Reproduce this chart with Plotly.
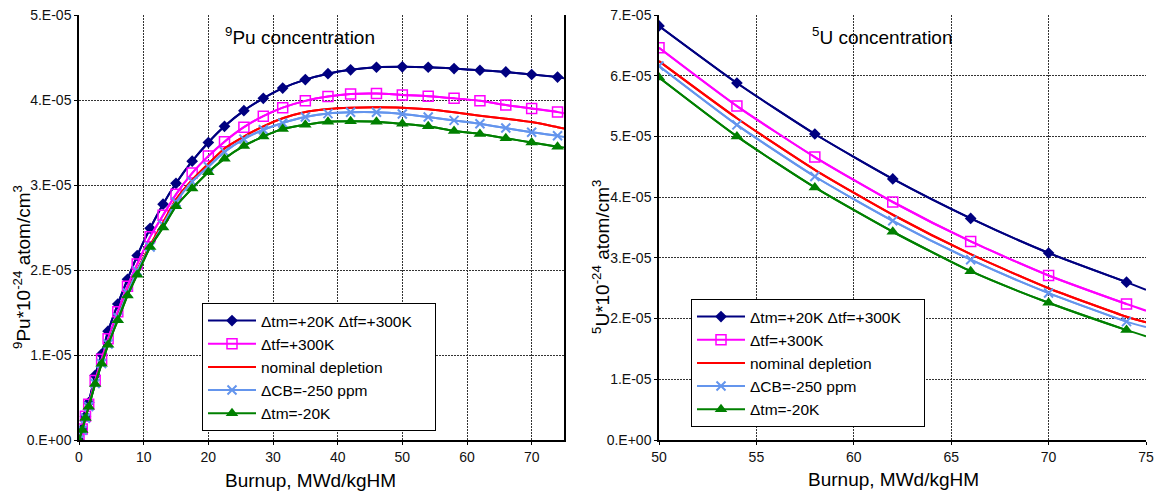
import plotly.graph_objects as go

# ---------------- data ----------------
# Pu-239 panel: burnup points (MWd/kgHM); markers on all but the last point
burnup_pu = [0, 0.5, 1, 1.5, 2.5, 3.5, 4.5, 6, 7.5, 9, 11, 13, 15, 17.5, 20, 22.5,
             25.5, 28.5, 31.5, 35, 38.5, 42, 46, 50, 54, 58, 62, 66, 70, 74, 75]

# concentrations in units of 1E-05 (x 1E-24 atom/cm3)
pu_tm20_tf300 = [0, 0.13, 0.28, 0.44, 0.76, 1.01, 1.28, 1.60, 1.89, 2.17, 2.49, 2.775,
                 3.02, 3.28, 3.50, 3.69, 3.875, 4.02, 4.14, 4.24, 4.31, 4.355, 4.385,
                 4.39, 4.385, 4.37, 4.35, 4.33, 4.30, 4.27, 4.255]
pu_tf300 = [0, 0.13, 0.28, 0.42, 0.70, 0.95, 1.19, 1.51, 1.81, 2.07, 2.39, 2.645,
            2.89, 3.14, 3.34, 3.51, 3.68, 3.81, 3.91, 3.99, 4.04, 4.07, 4.075,
            4.06, 4.045, 4.02, 3.99, 3.94, 3.90, 3.86, 3.845]
pu_nominal = [0, 0.12, 0.26, 0.40, 0.67, 0.91, 1.14, 1.45, 1.74, 2.00, 2.29, 2.56,
              2.83, 3.06, 3.25, 3.43, 3.57, 3.69, 3.785, 3.86, 3.895, 3.91, 3.915,
              3.91, 3.89, 3.855, 3.815, 3.78, 3.74, 3.68, 3.665]
pu_cb250 = [0, 0.115, 0.255, 0.395, 0.665, 0.90, 1.13, 1.44, 1.73, 1.99, 2.27, 2.53,
            2.80, 3.04, 3.215, 3.39, 3.54, 3.65, 3.73, 3.80, 3.84, 3.855, 3.855,
            3.835, 3.80, 3.76, 3.72, 3.67, 3.62, 3.58, 3.565]
pu_tm_minus20 = [0, 0.117, 0.26, 0.39, 0.66, 0.896, 1.12, 1.41, 1.70, 1.945, 2.27, 2.50,
                 2.75, 2.96, 3.15, 3.31, 3.46, 3.57, 3.66, 3.71, 3.745, 3.75, 3.745,
                 3.72, 3.69, 3.635, 3.60, 3.55, 3.50, 3.45, 3.44]

# U-235 panel
burnup_u = [50, 54, 58, 62, 66, 70, 74, 75]
u_tm20_tf300 = [6.82, 5.88, 5.04, 4.30, 3.65, 3.08, 2.60, 2.475]
u_tf300 = [6.46, 5.50, 4.66, 3.92, 3.27, 2.71, 2.24, 2.13]
u_nominal = [6.24, 5.30, 4.45, 3.71, 3.06, 2.50, 2.03, 1.94]
u_cb250 = [6.16, 5.19, 4.34, 3.61, 2.97, 2.42, 1.95, 1.86]
u_tm_minus20 = [5.97, 5.00, 4.16, 3.43, 2.78, 2.26, 1.81, 1.71]

series_names = ["\u0394tm=+20K \u0394tf=+300K", "\u0394tf=+300K", "nominal depletion",
                "\u0394CB=-250 ppm", "\u0394tm=-20K"]

pu_ticks = [0, 1e-5, 2e-5, 3e-5, 4e-5, 5e-5]
pu_ticktext = ["0.E+00", "1.E-05", "2.E-05", "3.E-05", "4.E-05", "5.E-05"]
u_ticks = [0, 1e-5, 2e-5, 3e-5, 4e-5, 5e-5, 6e-5, 7e-5]
u_ticktext = ["0.E+00", "1.E-05", "2.E-05", "3.E-05", "4.E-05", "5.E-05", "6.E-05", "7.E-05"]
pu_xticks = [0, 10, 20, 30, 40, 50, 60, 70]
u_xticks = [50, 55, 60, 65, 70, 75]

# ---------------- styles ----------------
styles = [
    dict(color="#000080", symbol="diamond", size=9, lw=0),
    dict(color="#FF00FF", symbol="square-open", size=10, lw=1.5),
    None,
    dict(color="#6495ED", symbol="x-thin-open", size=9, lw=2),
    dict(color="#008000", symbol="triangle-up", size=11, lw=0),
]
line_colors = ["#000080", "#FF00FF", "#FF0000", "#6495ED", "#008000"]
FONT = "Liberation Sans, Arial, sans-serif"

fig = go.Figure()


def add_series(xs, ys, name, idx, xaxis, yaxis, legend):
    yv = [v * 1e-5 for v in ys]
    color = line_colors[idx]
    lw = dict(color=color, width=2, shape="spline", smoothing=0.6)
    # full smoothed curve (runs to the end of the axis)
    fig.add_trace(go.Scatter(
        x=xs, y=yv, mode="lines", xaxis=xaxis, yaxis=yaxis, line=lw,
        showlegend=False, hoverinfo="skip", legend=legend))
    st = styles[idx]
    if st is None:
        fig.add_trace(go.Scatter(
            x=xs, y=yv, mode="lines", name=name, xaxis=xaxis, yaxis=yaxis,
            line=lw, legend=legend))
    else:
        m = dict(symbol=st["symbol"], size=st["size"], color=st["color"],
                 line=dict(color=st["color"], width=st["lw"]))
        fig.add_trace(go.Scatter(
            x=xs[:-1], y=yv[:-1], mode="lines+markers", name=name,
            xaxis=xaxis, yaxis=yaxis, line=lw, marker=m, legend=legend))


# a little trailing room after the longest legend entry
legend_names = [series_names[0] + "\u00a0" * 4] + series_names[1:]

pu_data = [pu_tm20_tf300, pu_tf300, pu_nominal, pu_cb250, pu_tm_minus20]
u_data = [u_tm20_tf300, u_tf300, u_nominal, u_cb250, u_tm_minus20]
for i, (nm, ys) in enumerate(zip(legend_names, pu_data)):
    add_series(burnup_pu, ys, nm, i, "x", "y", "legend")
for i, (nm, ys) in enumerate(zip(legend_names, u_data)):
    add_series(burnup_u, ys, nm, i, "x2", "y2", "legend2")

W, H = 1161, 495
ydom = [1 - 440 / H, 1 - 15 / H]

grid = dict(showgrid=True, gridcolor="#333333", gridwidth=1, griddash="2px,1px",
            showline=True, linecolor="black", linewidth=1.5,
            ticks="outside", ticklen=3, tickcolor="black", zeroline=False,
            automargin=False,
            tickfont=dict(family=FONT, size=14, color="#111111"))

legend_style = dict(xanchor="left", yanchor="top", bgcolor="white",
                    bordercolor="black", borderwidth=1, itemwidth=48,
                    font=dict(family=FONT, size=15.5, color="black"))

fig.update_layout(
    width=W, height=H,
    margin=dict(l=0, r=0, t=0, b=0, pad=0, autoexpand=False),
    paper_bgcolor="white", plot_bgcolor="white",
    font=dict(family=FONT, color="black"),
    xaxis=dict(domain=[79 / W, 564 / W], range=[0, 75], anchor="y",
               tickvals=pu_xticks, **grid),
    yaxis=dict(domain=ydom, range=[0, 5e-5], anchor="x", mirror=True,
               tickvals=pu_ticks, ticktext=pu_ticktext, **grid),
    xaxis2=dict(domain=[659 / W, 1146 / W], range=[50, 75], anchor="y2",
                tickvals=u_xticks, **grid),
    yaxis2=dict(domain=ydom, range=[0, 7e-5], anchor="x2",
                tickvals=u_ticks, ticktext=u_ticktext, **grid),
    legend=dict(x=202 / W, y=1 - 303 / H, **legend_style),
    legend2=dict(x=691 / W, y=1 - 299 / H, **legend_style),
    showlegend=True,
)

ann = dict(xref="paper", yref="paper", showarrow=False,
           xanchor="center", yanchor="middle",
           font=dict(family=FONT, size=19, color="black"))
fig.add_annotation(text="<sup>9</sup>Pu concentration", x=300 / W, y=1 - 36 / H, **ann)
fig.add_annotation(text="<sup>5</sup>U concentration", x=882 / W, y=1 - 36 / H, **ann)
fig.add_annotation(text="Burnup, MWd/kgHM", x=310 / W, y=1 - 480 / H, **ann)
fig.add_annotation(text="Burnup, MWd/kgHM", x=893 / W, y=1 - 479 / H, **ann)
fig.add_annotation(text="<sup>9</sup>Pu*10<sup>-24</sup> atom/cm<sup>3</sup>",
                   x=22 / W, y=1 - 267 / H, textangle=-90, **ann)
fig.add_annotation(text="<sup>5</sup>U*10<sup>-24</sup> atom/cm<sup>3</sup>",
                   x=601 / W, y=1 - 257 / H, textangle=-90, **ann)

fig.write_html("out.html")
